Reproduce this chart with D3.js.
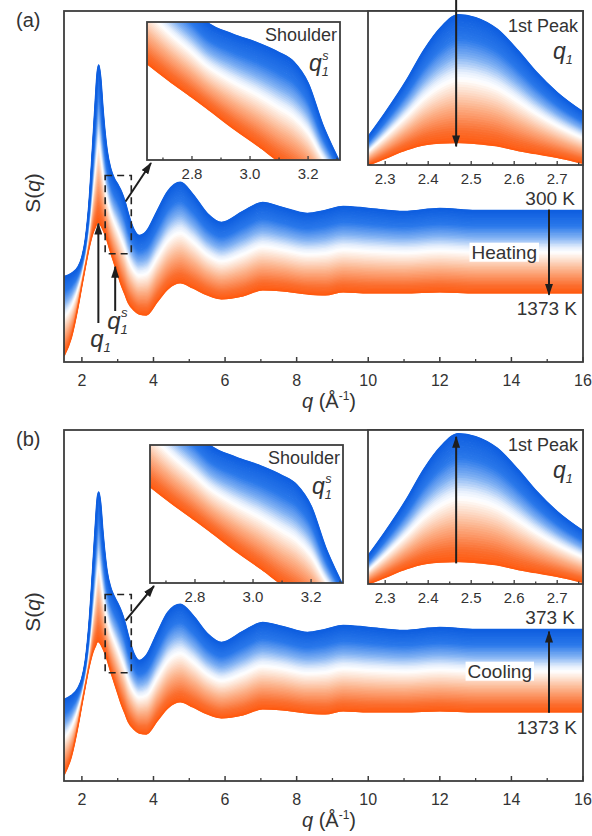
<!DOCTYPE html>
<html>
<head>
<meta charset="utf-8">
<script src="https://cdn.jsdelivr.net/npm/d3@7"></script>
<style>
  body { margin: 0; background: #fff; }
  svg text { font-family: "Liberation Sans", Arial, sans-serif; fill: #333; }
</style>
</head>
<body>
<svg id="chart" width="592" height="836"></svg>
<script>
// ---- data ----
// main panels: q grid (1/Å) and S(q) of the lowest / highest temperature curve (offset as plotted)
const qMain = [1.5, 1.7, 1.9, 2.0, 2.1, 2.2, 2.3, 2.38, 2.43, 2.47, 2.52, 2.58, 2.64, 2.7, 2.8, 2.9, 3.0, 3.1, 3.2, 3.3,
  3.45, 3.6, 3.8, 4.1, 4.4, 4.75, 5.1, 5.5, 5.9, 6.5, 7.05, 7.6, 8.3, 8.8, 9.3, 10, 11, 12, 13, 14, 15, 16];
const heat300 = [0.85, 0.88, 0.95, 1.04, 1.22, 1.57, 2.13, 2.61, 2.88, 2.96, 2.84, 2.55, 2.30, 2.11, 1.93, 1.83, 1.77, 1.70, 1.60, 1.47,
  1.32, 1.26, 1.30, 1.50, 1.70, 1.79, 1.67, 1.48, 1.39, 1.50, 1.59, 1.54, 1.48, 1.51, 1.55, 1.53, 1.50, 1.53, 1.51, 1.51, 1.51, 1.51];
const heat1373 = [0.06, 0.24, 0.57, 0.77, 0.96, 1.14, 1.28, 1.35, 1.39, 1.39, 1.37, 1.33, 1.28, 1.22, 1.10, 0.99, 0.88, 0.77, 0.68, 0.59,
  0.52, 0.48, 0.47, 0.60, 0.73, 0.79, 0.74, 0.67, 0.63, 0.66, 0.72, 0.71, 0.68, 0.67, 0.70, 0.69, 0.69, 0.70, 0.69, 0.69, 0.69, 0.69];
const cool373 = [0.81, 0.85, 0.93, 1.02, 1.20, 1.55, 2.08, 2.55, 2.81, 2.88, 2.77, 2.50, 2.27, 2.09, 1.93, 1.84, 1.77, 1.69, 1.58, 1.44,
  1.27, 1.20, 1.25, 1.47, 1.68, 1.76, 1.65, 1.47, 1.38, 1.49, 1.58, 1.54, 1.48, 1.51, 1.55, 1.53, 1.50, 1.53, 1.51, 1.51, 1.51, 1.51];
const cool1373 = [0.06, 0.24, 0.57, 0.77, 0.96, 1.14, 1.28, 1.35, 1.39, 1.39, 1.37, 1.33, 1.28, 1.22, 1.10, 0.99, 0.88, 0.77, 0.68, 0.59,
  0.52, 0.48, 0.47, 0.60, 0.73, 0.79, 0.74, 0.67, 0.63, 0.66, 0.72, 0.71, 0.68, 0.67, 0.70, 0.69, 0.69, 0.70, 0.69, 0.69, 0.69, 0.69];

// "1st Peak" inset
const qPeak = [2.2, 2.26, 2.3, 2.35, 2.39, 2.43, 2.47, 2.51, 2.56, 2.61, 2.65, 2.7, 2.76, 2.82];
const peakTop = [1.28, 1.64, 1.89, 2.23, 2.54, 2.78, 2.91, 2.88, 2.76, 2.53, 2.32, 2.10, 1.90, 1.74];
const peakBottom = [1.27, 1.35, 1.42, 1.51, 1.56, 1.58, 1.585, 1.575, 1.55, 1.50, 1.47, 1.43, 1.37, 1.31];

// "Shoulder" inset
const qShoulder = [2.6, 2.645, 2.72, 2.8, 2.85, 2.94, 3.03, 3.1, 3.15, 3.2, 3.25, 3.3, 3.36];
const shoulderTop = [2.42, 2.32, 2.15, 2.0, 1.9, 1.82, 1.76, 1.70, 1.64, 1.50, 1.23, 1.02, 0.80];
const shoulderBottom = [1.70, 1.63, 1.52, 1.41, 1.34, 1.21, 1.09, 0.99, 0.93, 0.87, 0.81, 0.76, 0.70];

const mainTicks = [2, 4, 6, 8, 10, 12, 14, 16];
const peakTicks = [2.3, 2.4, 2.5, 2.6, 2.7];
const shoulderTicks = [2.8, 3.0, 3.2];

// ---- layout ----
let svg = d3.select("#chart");
let frameColor = "#3d3d3d";
let arrowColor = "#1e1e1e";
let left = 64, right = 583, plotH = 351;

let bandColor = d3.scaleLinear()
  .domain([0, 0.18, 0.32, 0.44, 0.5, 0.58, 0.72, 0.9, 1])
  .range(["#0f5fe0", "#2a78ea", "#7fb0f3", "#e4eefc", "#ffffff", "#fde4d4", "#fcb088", "#fb6f30", "#ff5a10"])
  .interpolate(d3.interpolateRgb);

let defs = svg.append("defs");
defs.append("marker")
  .attr("id", "head")
  .attr("markerUnits", "userSpaceOnUse")
  .attr("markerWidth", 12).attr("markerHeight", 8)
  .attr("refX", 11).attr("refY", 4)
  .attr("orient", "auto")
  .append("path")
  .attr("d", "M0,0 L12,4 L0,8 z")
  .attr("fill", arrowColor);

let clipCount = 0;
function clipRect(x, y, w, h) {
  let id = "clip" + (clipCount++);
  defs.append("clipPath").attr("id", id)
    .append("rect").attr("x", x).attr("y", y).attr("width", w).attr("height", h);
  return "url(#" + id + ")";
}

// gradient band: thin strips between the two measured curves
function drawBand(g, q, top, bottom, xs, ys, nStrips) {
  let pts = (t) => q.map((v, i) => [v, top[i] * (1 - t) + bottom[i] * t]);
  for (let k = nStrips - 1; k >= 0; k--) {
    let a = pts(k / nStrips), b = pts((k + 1) / nStrips);
    let col = bandColor((k + 0.5) / nStrips);
    g.append("path")
      .attr("d", d3.area()
        .x((d, i) => xs(q[i]))
        .y0((d, i) => ys(b[i][1]))
        .y1((d, i) => ys(a[i][1]))
        .curve(d3.curveMonotoneX)(q))
      .attr("fill", col)
      .attr("stroke", col)
      .attr("stroke-width", 1.2);
  }
  let line = d3.line().x(d => xs(d[0])).y(d => ys(d[1])).curve(d3.curveMonotoneX);
  g.append("path").attr("d", line(pts(1))).attr("fill", "none")
    .attr("stroke", bandColor(1)).attr("stroke-width", 1.6);
  g.append("path").attr("d", line(pts(0))).attr("fill", "none")
    .attr("stroke", bandColor(0)).attr("stroke-width", 1.8);
}

function arrow(g, xa, ya, xb, yb) {
  g.append("line")
    .attr("x1", xa).attr("y1", ya).attr("x2", xb).attr("y2", yb)
    .attr("stroke", arrowColor).attr("stroke-width", 2)
    .attr("marker-end", "url(#head)");
}

function qLabel(g, x, y, size, sub, sup) {
  g.append("text").attr("x", x).attr("y", y)
    .style("font-size", size + "px").style("font-style", "italic").text("q");
  g.append("text").attr("x", x + size * 0.55).attr("y", y + size * 0.22)
    .style("font-size", (size * 0.55) + "px").style("font-style", "italic").text(sub);
  if (sup) {
    g.append("text").attr("x", x + size * 0.58).attr("y", y - size * 0.5)
      .style("font-size", (size * 0.55) + "px").style("font-style", "italic").text(sup);
  }
}

let panels = [
  { top: 11, tag: "(a)", upper: heat300, lower: heat1373,
    tTop: "300 K", tBottom: "1373 K", mode: "Heating", up: false,
    shoulder: [147, 11, 193, 138], peakArrowFrom: -11, qArrows: true },
  { top: 430, tag: "(b)", upper: cool373, lower: cool1373,
    tTop: "373 K", tBottom: "1373 K", mode: "Cooling", up: true,
    shoulder: [150, 15, 193, 138], peakArrowFrom: null, qArrows: false }
];

panels.forEach(function(p) {
  let g = svg.append("g");
  let top = p.top, bottom = p.top + plotH;

  let x = d3.scaleLinear().domain([1.5, 16]).range([left, right]);
  let y = d3.scaleLinear().domain([0, 3.5]).range([bottom, top]);

  // curves
  let cg = g.append("g").attr("clip-path", clipRect(left, top, right - left, plotH));
  drawBand(cg, qMain, p.upper, p.lower, x, y, 60);

  // frame
  g.append("rect").attr("x", left).attr("y", top).attr("width", right - left).attr("height", plotH)
    .attr("fill", "none").attr("stroke", frameColor).attr("stroke-width", 1.8);

  // x axis ticks (inside) and labels
  let minor = d3.range(3, 16, 2);
  g.selectAll(".maj").data(mainTicks).enter().append("line")
    .attr("x1", d => x(d)).attr("x2", d => x(d))
    .attr("y1", bottom).attr("y2", bottom - 5)
    .attr("stroke", frameColor).attr("stroke-width", 1.5);
  g.selectAll(".min").data(minor).enter().append("line")
    .attr("x1", d => x(d)).attr("x2", d => x(d))
    .attr("y1", bottom).attr("y2", bottom - 3)
    .attr("stroke", frameColor).attr("stroke-width", 1.3);
  g.selectAll(".tl").data(mainTicks).enter().append("text")
    .attr("x", d => x(d)).attr("y", bottom + 24)
    .attr("text-anchor", "middle").style("font-size", "16px")
    .text(d => d);

  // axis titles
  let xt = g.append("text").attr("x", 329).attr("y", bottom + 46)
    .attr("text-anchor", "middle").style("font-size", "20px");
  xt.append("tspan").style("font-style", "italic").text("q");
  xt.append("tspan").text(" (Å");
  xt.append("tspan").attr("dy", -8).style("font-size", "12px").text("-1");
  xt.append("tspan").attr("dy", 8).text(")");

  let yt = g.append("text")
    .attr("transform", "translate(40," + (top + 182) + ") rotate(-90)")
    .attr("text-anchor", "middle").style("font-size", "21px");
  yt.append("tspan").text("S(");
  yt.append("tspan").style("font-style", "italic").text("q");
  yt.append("tspan").text(")");

  g.append("text").attr("x", 16).attr("y", top + 16).style("font-size", "20px").text(p.tag);

  // dashed zoom box and pointer to the shoulder inset
  let bx0 = x(2.65), bx1 = x(3.38), by0 = y(1.86), by1 = y(1.08);
  g.append("rect").attr("x", bx0).attr("y", by0).attr("width", bx1 - bx0).attr("height", by1 - by0)
    .attr("fill", "none").attr("stroke", "#222").attr("stroke-width", 1.6)
    .attr("stroke-dasharray", "7,5");

  let [sx, sy, sw, sh] = p.shoulder;
  arrow(g, x(3.22), y(1.6), sx + 4, top + sy + sh + 3);

  // temperature arrow at the right
  let xa = x(15.05);
  let yUp = y(p.upper[p.upper.length - 2]), yLo = y(p.lower[p.lower.length - 2]);
  if (p.up) arrow(g, xa, yLo + 1, xa, yUp + 2);
  else arrow(g, xa, yUp - 1, xa, yLo + 2);

  g.append("text").attr("x", 575).attr("y", yUp - 6).attr("text-anchor", "end")
    .style("font-size", "19px").text(p.tTop);
  g.append("text").attr("x", 577).attr("y", yLo + 22).attr("text-anchor", "end")
    .style("font-size", "19px").text(p.tBottom);
  let mt = g.append("text").attr("x", p.up ? 532 : 537).attr("y", (yUp + yLo) / 2 + 7)
    .attr("text-anchor", "end").style("font-size", "19px").text(p.mode);
  let bb = mt.node().getBBox();
  g.insert("rect", "text:last-of-type")
    .attr("x", bb.x - 2).attr("y", bb.y + 1).attr("width", bb.width + 4).attr("height", bb.height - 2)
    .attr("fill", "#fff");
  mt.raise();

  // q1 markers on the main plot (panel a)
  if (p.qArrows) {
    let xp = x(2.46);
    arrow(g, xp, top + 312, xp, y(1.39) + 1);
    qLabel(g, xp - 8, top + 336, 24, "1", null);
    let xs = x(2.93);
    arrow(g, xs, top + 300, xs, y(0.95));
    qLabel(g, xs - 8, top + 318, 24, "1", "s");
  }

  // ---- shoulder inset ----
  let sgx = d3.scaleLinear().domain([2.645, 3.31]).range([sx, sx + sw]);
  let sgy = d3.scaleLinear().domain([1.0, 1.9]).range([top + sy + sh, top + sy]);
  g.append("rect").attr("x", sx).attr("y", top + sy).attr("width", sw).attr("height", sh).attr("fill", "#fff");
  let sg = g.append("g").attr("clip-path", clipRect(sx, top + sy, sw, sh));
  drawBand(sg, qShoulder, shoulderTop, shoulderBottom, sgx, sgy, 50);
  g.append("rect").attr("x", sx).attr("y", top + sy).attr("width", sw).attr("height", sh)
    .attr("fill", "none").attr("stroke", frameColor).attr("stroke-width", 1.8);
  g.selectAll(".st").data(d3.range(2.7, 3.31, 0.1)).enter().append("line")
    .attr("x1", d => sgx(d)).attr("x2", d => sgx(d))
    .attr("y1", top + sy + sh).attr("y2", d => top + sy + sh - (Math.round(d * 10) % 2 === 0 ? 4 : 2.5))
    .attr("stroke", frameColor).attr("stroke-width", 1.3);
  g.selectAll(".stl").data(shoulderTicks).enter().append("text")
    .attr("x", d => sgx(d)).attr("y", top + sy + sh + 19)
    .attr("text-anchor", "middle").style("font-size", "15px")
    .text(d => d.toFixed(1));
  g.append("text").attr("x", sx + sw - 3).attr("y", top + sy + 19)
    .attr("text-anchor", "end").style("font-size", "18px").text("Shoulder");
  qLabel(g, sx + sw - 31, top + sy + 49, 23, "1", "s");

  // ---- 1st peak inset ----
  let px0 = 368, pw = right - px0, ph = 154;
  let pgx = d3.scaleLinear().domain([2.26, 2.76]).range([px0, right]);
  let pgy = d3.scaleLinear().domain([1.35, 2.95]).range([top + ph, top]);
  g.append("rect").attr("x", px0).attr("y", top).attr("width", pw).attr("height", ph).attr("fill", "#fff");
  let pg = g.append("g").attr("clip-path", clipRect(px0, top, pw, ph));
  drawBand(pg, qPeak, peakTop, peakBottom, pgx, pgy, 50);
  g.append("rect").attr("x", px0).attr("y", top).attr("width", pw).attr("height", ph)
    .attr("fill", "none").attr("stroke", frameColor).attr("stroke-width", 1.8);
  g.selectAll(".pt").data(d3.range(2.3, 2.76, 0.05)).enter().append("line")
    .attr("x1", d => pgx(d)).attr("x2", d => pgx(d))
    .attr("y1", top + ph).attr("y2", d => top + ph - (Math.round(d * 100) % 10 === 0 ? 4 : 2.5))
    .attr("stroke", frameColor).attr("stroke-width", 1.3);
  g.selectAll(".ptl").data(peakTicks).enter().append("text")
    .attr("x", d => pgx(d)).attr("y", top + ph + 19)
    .attr("text-anchor", "middle").style("font-size", "15px")
    .text(d => d.toFixed(1));
  g.append("text").attr("x", right - 5).attr("y", top + 21)
    .attr("text-anchor", "end").style("font-size", "18px").text("1st Peak");
  qLabel(g, right - 30, top + 48, 23, "1", null);

  let xq = pgx(2.465);
  if (p.up) arrow(g, xq, pgy(1.585) + 2, xq, pgy(2.91) + 3);
  else arrow(g, xq, top + p.peakArrowFrom, xq, pgy(1.585) + 4);
});
</script>
</body>
</html>
